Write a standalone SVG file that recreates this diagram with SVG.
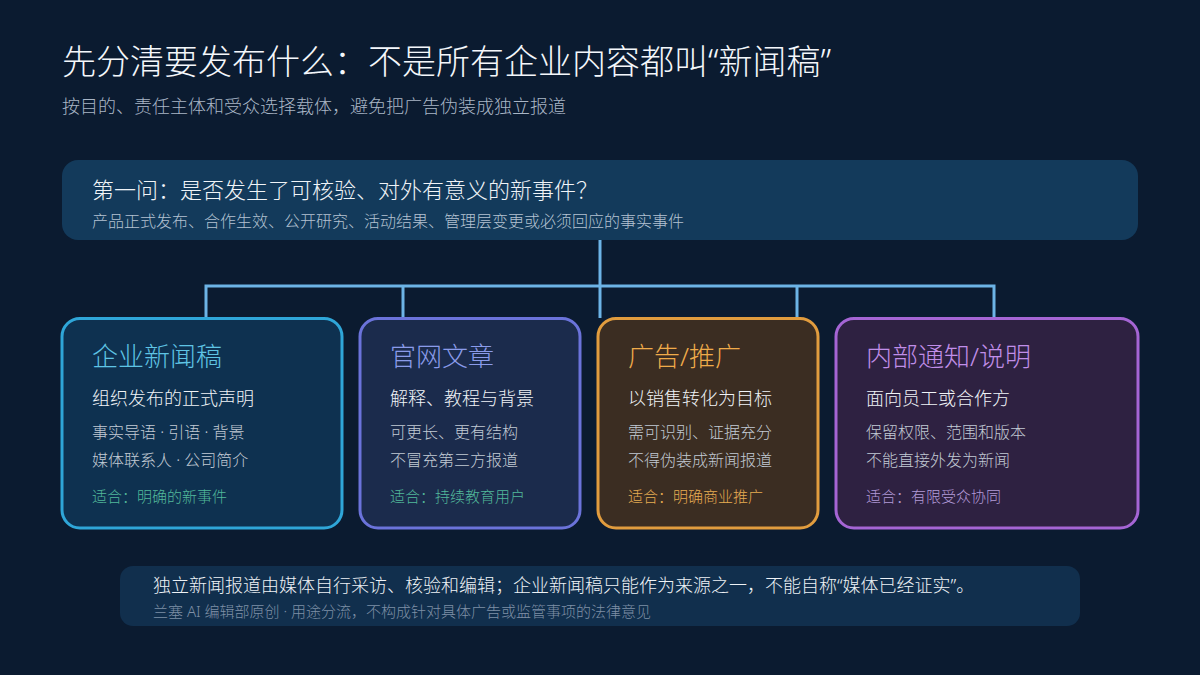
<svg xmlns="http://www.w3.org/2000/svg" width="1200" height="675" viewBox="0 0 1200 675">
  <style>
    text { font-family: "Noto Sans", "Noto Sans CJK SC", sans-serif; font-weight: 300; }
    .title { font-size: 34px; fill: #f4f7fb; }
    .subtitle { font-size: 18px; fill: #a9b6c6; }
    .q1 { font-size: 22px; fill: #f0f4f8; }
    .q2 { font-size: 16px; fill: #b4c2d2; }
    .ctitle { font-size: 26px; }
    .csub { font-size: 18px; fill: #f0f3f7; }
    .cline { font-size: 16px; fill: #c2cad4; }
    .cfit { font-size: 15px; }
    .card { stroke-width: 3; }
    .conn { stroke: #6db4e6; stroke-width: 3; fill: none; }
    .b1 { font-size: 18px; fill: #eef2f6; }
    .b2 { font-size: 15px; fill: #7f90a6; }
  </style>
  <rect x="0" y="0" width="1200" height="675" fill="#0b1b30"/>

  <g id="header">
    <text class="title" x="62" y="74">先分清要发布什么：不是所有企业内容都叫“新闻稿”</text>
    <text class="subtitle" x="62" y="113">按目的、责任主体和受众选择载体，避免把广告伪装成独立报道</text>
  </g>

  <g id="question">
    <rect x="62" y="160" width="1076" height="80" rx="16" fill="#133a5b"/>
    <text class="q1" x="92" y="198">第一问：是否发生了可核验、对外有意义的新事件？</text>
    <text class="q2" x="92" y="227">产品正式发布、合作生效、公开研究、活动结果、管理层变更或必须回应的事实事件</text>
  </g>

  <g id="connectors">
    <path class="conn" d="M600 240 V318"/>
    <path class="conn" d="M206 318 V286 H994 V318"/>
    <path class="conn" d="M403 286 V318"/>
    <path class="conn" d="M797 286 V318"/>
  </g>

  <g id="card-press">
    <rect class="card" x="62" y="318.5" width="280" height="209.5" rx="18" fill="#0e3150" stroke="#2fa6d8"/>
    <text class="ctitle" x="92" y="366" fill="#5fc4e4">企业新闻稿</text>
    <text class="csub" x="92" y="405">组织发布的正式声明</text>
    <text class="cline" x="92" y="438">事实导语 · 引语 · 背景</text>
    <text class="cline" x="92" y="466">媒体联系人 · 公司简介</text>
    <text class="cfit" x="92" y="502" fill="#52b99b">适合：明确的新事件</text>
  </g>

  <g id="card-article">
    <rect class="card" x="360" y="318.5" width="220" height="209.5" rx="18" fill="#1b2b4c" stroke="#6b73da"/>
    <text class="ctitle" x="390" y="366" fill="#8a9bea">官网文章</text>
    <text class="csub" x="390" y="405">解释、教程与背景</text>
    <text class="cline" x="390" y="438">可更长、更有结构</text>
    <text class="cline" x="390" y="466">不冒充第三方报道</text>
    <text class="cfit" x="390" y="502" fill="#52b99b">适合：持续教育用户</text>
  </g>

  <g id="card-ad">
    <rect class="card" x="598" y="318.5" width="220" height="209.5" rx="18" fill="#3b2d22" stroke="#e19c3e"/>
    <text class="ctitle" x="628" y="366" fill="#f0ab4a">广告/推广</text>
    <text class="csub" x="628" y="405">以销售转化为目标</text>
    <text class="cline" x="628" y="438">需可识别、证据充分</text>
    <text class="cline" x="628" y="466">不得伪装成新闻报道</text>
    <text class="cfit" x="628" y="502" fill="#e6ac52">适合：明确商业推广</text>
  </g>

  <g id="card-internal">
    <rect class="card" x="836" y="318.5" width="302" height="209.5" rx="18" fill="#2e2141" stroke="#a565d4"/>
    <text class="ctitle" x="866" y="366" fill="#c08ee8">内部通知/说明</text>
    <text class="csub" x="866" y="405">面向员工或合作方</text>
    <text class="cline" x="866" y="438">保留权限、范围和版本</text>
    <text class="cline" x="866" y="466">不能直接外发为新闻</text>
    <text class="cfit" x="866" y="502" fill="#b29ad8">适合：有限受众协同</text>
  </g>

  <g id="footer">
    <rect x="120" y="566" width="960" height="60" rx="13" fill="#112f4d"/>
    <text class="b1" x="153" y="592">独立新闻报道由媒体自行采访、核验和编辑；企业新闻稿只能作为来源之一，不能自称“媒体已经证实”。</text>
    <text class="b2" x="153" y="617">兰塞 AI 编辑部原创 · 用途分流，不构成针对具体广告或监管事项的法律意见</text>
  </g>
</svg>
